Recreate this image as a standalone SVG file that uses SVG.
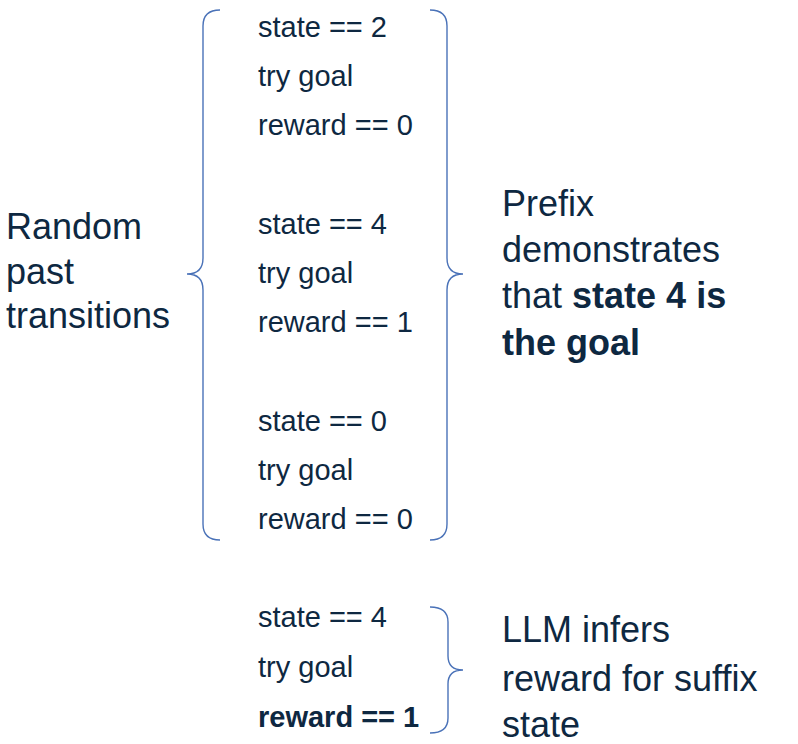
<svg xmlns="http://www.w3.org/2000/svg" width="798" height="744" viewBox="0 0 798 744">
<style>
text{font-family:"Liberation Sans",Arial,sans-serif;fill:#0E2841}
.code{font-size:29px}
.lbl{font-size:36px}
.b{font-weight:bold}
.brace{fill:none;stroke:#4A72B8;stroke-width:1.4}
</style>
<rect width="798" height="744" fill="#ffffff"/>
<g id="connectors">
<path class="brace" d="M220,10 C208,10 203,16 203,26 L203,258 C203,268 198,274 187,274 C198,274 203,280 203,290 L203,524 C203,534 208,540 220,540"/>
<path class="brace" d="M430,10 C442,10 447,16 447,26 L447,258 C447,268 452,274 463,274 C452,274 447,280 447,290 L447,524 C447,534 442,540 430,540"/>
<path class="brace" d="M430,607 C442,607 448,612 448,622 L448,656 C448,665 452,670 463,670 C452,670 448,675 448,684 L448,718 C448,728 442,733 430,733"/>
</g>
<g id="random-past">
<text class="lbl" x="6" y="239">Random</text>
<text class="lbl" x="6" y="284">past</text>
<text class="lbl" x="6" y="328">transitions</text>
</g>
<g id="transition-1">
<text class="code" x="258" y="37">state == 2</text>
<text class="code" x="258" y="86">try goal</text>
<text class="code" x="258" y="135">reward == 0</text>
</g>
<g id="transition-2">
<text class="code" x="258" y="234">state == 4</text>
<text class="code" x="258" y="283">try goal</text>
<text class="code" x="258" y="332">reward == 1</text>
</g>
<g id="transition-3">
<text class="code" x="258" y="431">state == 0</text>
<text class="code" x="258" y="480">try goal</text>
<text class="code" x="258" y="529">reward == 0</text>
</g>
<g id="prefix-note">
<text class="lbl" x="502" y="216">Prefix</text>
<text class="lbl" x="502" y="262">demonstrates</text>
<text class="lbl" x="502" y="308">that <tspan class="b">state 4 is</tspan></text>
<text class="lbl b" x="502" y="355">the goal</text>
</g>
<g id="suffix">
<text class="code" x="258" y="627">state == 4</text>
<text class="code" x="258" y="677">try goal</text>
<text class="code b" x="258" y="727">reward == 1</text>
</g>
<g id="suffix-note">
<text class="lbl" x="502" y="642">LLM infers</text>
<text class="lbl" x="502" y="691">reward for suffix</text>
<text class="lbl" x="502" y="737">state</text>
</g>
</svg>
